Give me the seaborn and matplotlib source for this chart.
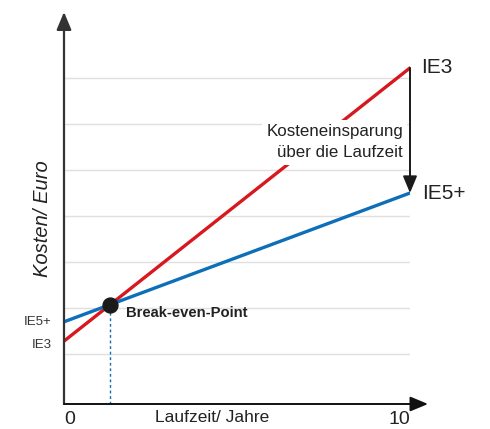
import numpy as np
import pandas as pd
import seaborn as sns
import matplotlib.pyplot as plt

# Data (arbitrary cost units; gridlines at 1..7)
years = [0, 10]
cost_ie3 = [1.28, 7.22]
cost_ie5 = [1.70, 4.50]
series_names = ["IE3", "IE5+"]
grid_levels = [1, 2, 3, 4, 5, 6, 7]
x_tick_values = [0, 10]
x_tick_labels = ["0", "10"]

df = pd.DataFrame({
    "Laufzeit": years * 2,
    "Kosten": cost_ie3 + cost_ie5,
    "Motor": [series_names[0]] * 2 + [series_names[1]] * 2,
})

sns.set_style("white")
plt.rcParams["font.family"] = ["Liberation Sans", "DejaVu Sans"]

fig = plt.figure(figsize=(4.9, 4.29), dpi=100)
ax = fig.add_axes([64 / 490, 25 / 429, 346 / 490, 389 / 429])

sns.lineplot(data=df, x="Laufzeit", y="Kosten", hue="Motor",
             palette={"IE3": "#d7191f", "IE5+": "#0d6fb8"},
             linewidth=2.4, legend=False, ax=ax, zorder=3)

ax.set_xlim(0, 10)
ax.set_ylim(-0.087, 8.37)
ax.set_yticks(grid_levels)
ax.set_yticklabels([])
ax.yaxis.grid(True, color="#e0e0e0", linewidth=1)
ax.xaxis.grid(False)
for s in ax.spines.values():
    s.set_visible(False)
ax.tick_params(length=0)
ax.set_xticks(x_tick_values)
ax.set_xticklabels(x_tick_labels, fontsize=14, color="#222222")
ax.get_xticklabels()[0].set_ha("left")
ax.get_xticklabels()[1].set_ha("right")
ax.tick_params(axis="x", pad=5)
ax.set_xlabel("")
ax.set_ylabel("")

arrow_style = "-|>,head_length=0.6,head_width=0.25"

# axis arrows
ax.annotate("", xy=(0, 1 + 3 / 389), xytext=(0, 0), xycoords="axes fraction",
            arrowprops=dict(arrowstyle=arrow_style, color="#333333", lw=1.6,
                            mutation_scale=18, shrinkA=0, shrinkB=0),
            annotation_clip=False)
ax.annotate("", xy=(364 / 346, 0), xytext=(0, 0), xycoords="axes fraction",
            arrowprops=dict(arrowstyle=arrow_style, color="#111111", lw=1.4,
                            mutation_scale=18, shrinkA=0, shrinkB=0),
            annotation_clip=False)

# break-even point
slope3 = (cost_ie3[1] - cost_ie3[0]) / (years[1] - years[0])
slope5 = (cost_ie5[1] - cost_ie5[0]) / (years[1] - years[0])
be_x = (cost_ie5[0] - cost_ie3[0]) / (slope3 - slope5)
be_y = cost_ie3[0] + slope3 * be_x
ax.plot([be_x, be_x], [-0.087, be_y], color="#0d6fb8", lw=1, ls=(0, (2, 2)), zorder=2)
ax.scatter([be_x], [be_y], s=115, color="#1a1a1a", zorder=5)
ax.annotate("Break-even-Point", (be_x, be_y), xytext=(11.5, -6), textcoords="offset points",
            fontsize=10.6, fontweight="bold", color="#222222",
            ha="left", va="center")

# savings arrow
ax.annotate("", xy=(years[1], cost_ie5[1]), xytext=(years[1], cost_ie3[1]),
            arrowprops=dict(arrowstyle=arrow_style, color="#1a1a1a", lw=1.4,
                            mutation_scale=17, shrinkA=0, shrinkB=0))
ax.text(9.8, 5.6, "Kosteneinsparung\nüber die Laufzeit",
        ha="right", va="center", fontsize=12.2, color="#222222", linespacing=1.5,
        bbox=dict(facecolor="white", edgecolor="none", pad=3))

# end labels
ax.annotate(series_names[0], (years[1], cost_ie3[1]), xytext=(8, 0), textcoords="offset points",
            fontsize=15, color="#222222", va="center", ha="left", annotation_clip=False)
ax.annotate(series_names[1], (years[1], cost_ie5[1]), xytext=(9, 0), textcoords="offset points",
            fontsize=15, color="#222222", va="center", ha="left", annotation_clip=False)

# start labels
ax.annotate(series_names[1], (0, cost_ie5[0]), xytext=(-9, 0), textcoords="offset points",
            fontsize=9.5, color="#333333", va="center", ha="right", annotation_clip=False)
ax.annotate(series_names[0], (0, cost_ie3[0]), xytext=(-9, -3), textcoords="offset points",
            fontsize=9.5, color="#333333", va="center", ha="right", annotation_clip=False)

fig.text(212 / 490, 1 - 418 / 429, "Laufzeit/ Jahre", ha="center", va="center",
         fontsize=12.5, color="#222222")
fig.text(43 / 490, 1 - 219 / 429, "Kosten/ Euro", ha="center", va="center",
         rotation=90, fontsize=14.5, style="italic", color="#222222")

fig.savefig("out.png", dpi=100)
